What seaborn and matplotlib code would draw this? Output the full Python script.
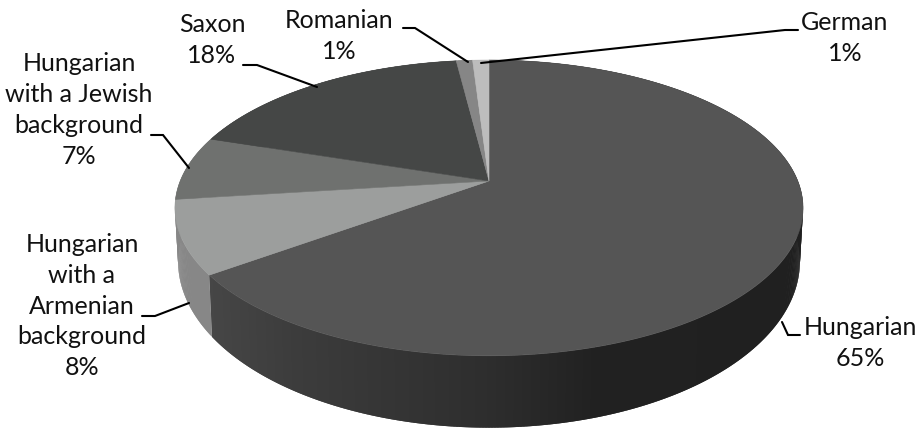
import numpy as np
import pandas as pd
import matplotlib.pyplot as plt
import seaborn as sns

# slices, clockwise from 12 o'clock
groups = ['Hungarian', 'Hungarian\nwith a\nArmenian\nbackground', 'Hungarian\nwith a Jewish\nbackground',
          'Saxon', 'Romanian', 'German']
shares = [65, 8, 7, 18, 1, 1]
top_colors = ['#555555', '#9c9e9d', '#6f716f', '#454746', '#868686', '#bdbdbd']
side_colors = [None, '#878787', '#878787', '#404040', '#808080', '#b0b0b0']

# shading of the big slice's side, left to right
shade_x = [210, 300, 488, 600, 800]
shade_grey = [0.275, 0.235, 0.18, 0.13, 0.125]

sns.set_theme(style='white')
plt.rcParams['font.family'] = ['Lato', 'DejaVu Sans']

df = pd.DataFrame({'group': groups, 'share': shares})
df['end'] = df['share'].cumsum() / df['share'].sum() * 2 * np.pi
df['start'] = df['end'] - df['share'] / df['share'].sum() * 2 * np.pi

fig, ax = plt.subplots(figsize=(9.24, 4.29), dpi=100)
ax.set_position([0, 0, 1, 1])
ax.set_xlim(0, 924)
ax.set_ylim(429, 0)
ax.axis('off')

# tilted pie: a circle seen in perspective
cx, cy = 489, 181
rx, ry, k = 308.8, 143, 0.182


def rim(theta, sx=1.0, sy=1.0, dy=0.0):
    u, v = np.sin(theta), np.cos(theta)
    w = 1 + k * v
    return cx + sx * rx * u / w, cy + dy - sy * ry * v / w


# sides first, the top faces cover whatever faces backwards
for row, col in zip(df.itertuples(), side_colors):
    edges = np.linspace(row.start, row.end, int(row.share * 8) + 3)
    for i in range(len(edges) - 2, -1, -1):
        t = np.linspace(edges[i], edges[min(i + 2, len(edges) - 1)], 5)
        xa, ya = rim(t)
        xb, yb = rim(t, 0.99, 1.125, 50)
        c = col
        if c is None:
            c = str(np.interp(rim(edges[i])[0], shade_x, shade_grey))
        ax.fill(np.r_[xa, xb[::-1]], np.r_[ya, yb[::-1]], color=c, lw=0, zorder=1)

for row, col in zip(df.itertuples(), top_colors):
    t = np.linspace(row.start, row.end, 200)
    x, y = rim(t)
    ax.fill(np.r_[cx, x], np.r_[cy, y], color=col, lw=0.4, zorder=2)

# leader lines
leaders = [
    ([782, 788, 800], [322, 335, 335]),
    ([142, 155, 189], [316, 316, 303]),
    ([151, 163, 189], [135, 135, 168]),
    ([243, 257, 317], [65, 65, 87]),
    ([403, 415, 468], [28, 28, 62]),
    ([798, 785, 481], [30, 30, 63]),
]
for lx, ly in leaders:
    ax.plot(lx, ly, color='black', lw=1.5, zorder=3, solid_joinstyle='miter')

# labels
text_pos = [(860, 343), (82, 306), (79, 110), (212, 40), (339, 36), (845, 38)]
for row, (tx, ty) in zip(df.itertuples(), text_pos):
    ax.text(tx, ty, f'{row.group}\n{row.share}%', ha='center', va='center', fontsize=18,
            color='#111111', linespacing=1.42, zorder=4)

fig.savefig('out.png', dpi=100, facecolor='white')
